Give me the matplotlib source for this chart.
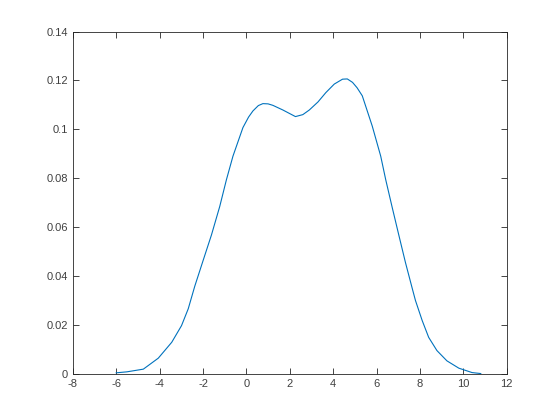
import numpy as np
import matplotlib.pyplot as plt

# density curve
xs = [-6.0, -5.51, -4.75, -4.06, -3.44, -2.99, -2.68, -2.38, -2.0, -1.61, -1.23, -0.92,
      -0.62, -0.16, 0.10, 0.30, 0.55, 0.76, 1.0, 1.22, 1.68, 2.26, 2.60, 2.90, 3.30,
      3.66, 4.05, 4.43, 4.65, 4.89, 5.10, 5.34, 5.80, 6.19, 6.42, 6.72, 7.03, 7.33,
      7.64, 7.79, 8.10, 8.40, 8.78, 9.24, 9.79, 10.4, 10.8]
ys = [0.0004, 0.0008, 0.0019, 0.0064, 0.0129, 0.0197, 0.0266, 0.0358, 0.0462, 0.0568, 0.0684, 0.0794,
      0.089, 0.1007, 0.1050, 0.1075, 0.1097, 0.1105, 0.1104, 0.1098, 0.1079, 0.1052, 0.1060, 0.1079, 0.1112,
      0.1150, 0.1185, 0.1205, 0.1206, 0.1192, 0.1170, 0.1137, 0.1013, 0.089, 0.0794, 0.0680, 0.0565, 0.0455,
      0.0350, 0.030, 0.0218, 0.0149, 0.0095, 0.0053, 0.0023, 0.0005, 0.0001]

xticks = np.arange(-8, 13, 2)
yticks = [0, 0.02, 0.04, 0.06, 0.08, 0.1, 0.12, 0.14]
ytick_labels = ['0', '0.02', '0.04', '0.06', '0.08', '0.1', '0.12', '0.14']

plt.rcParams['font.family'] = ['Liberation Sans', 'DejaVu Sans']

fig = plt.figure(figsize=(5.6, 4.2), dpi=100)
ax = fig.add_axes([0.13, 0.11, 0.775, 0.815])

ax.plot(xs, ys, color='#0072BD', linewidth=0.8)

ax.set_xlim(-8, 12)
ax.set_ylim(0, 0.14)
ax.set_xticks(xticks)
ax.set_xticklabels([str(t) for t in xticks])
ax.set_yticks(yticks)
ax.set_yticklabels(ytick_labels)

for s in ax.spines.values():
    s.set_color('#262626')
    s.set_linewidth(0.6)
ax.tick_params(direction='in', top=True, right=True, length=4, width=0.6,
               colors='#262626', labelsize=8, labelcolor='#404040')

fig.savefig('out.png', dpi=100)
